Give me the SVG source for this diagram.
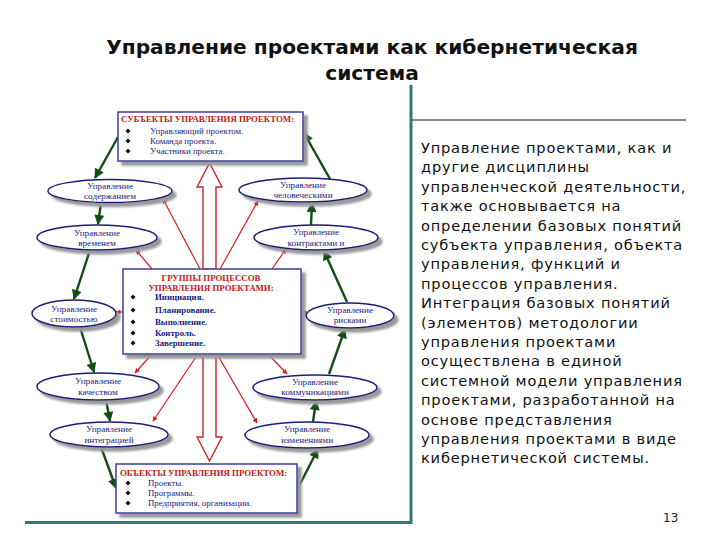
<svg xmlns="http://www.w3.org/2000/svg" width="720" height="540" viewBox="0 0 720 540">
<defs>
<filter id="sh" x="-20%" y="-30%" width="140%" height="170%"><feDropShadow dx="4" dy="4" stdDeviation="1.3" flood-color="#9a9a9a" flood-opacity="1"/></filter>
<marker id="ga" viewBox="0 0 10 10" refX="9" refY="5" markerWidth="11" markerHeight="10" markerUnits="userSpaceOnUse" orient="auto"><path d="M0,0 L10,5 L0,10 Z" fill="#134d13"/></marker>
<marker id="ra" viewBox="0 0 10 10" refX="9" refY="5" markerWidth="6" markerHeight="5" markerUnits="userSpaceOnUse" orient="auto"><path d="M0,0 L10,5 L0,10 Z" fill="#d42020"/></marker>
<style>
.bg{fill:#fff}
.title{font-family:"DejaVu Sans",sans-serif;font-weight:bold;font-size:20.2px;fill:#111;text-anchor:middle}
.body{font-family:"DejaVu Sans",sans-serif;font-size:14.6px;fill:#111;letter-spacing:0.8px}
.pg{font-family:"DejaVu Sans",sans-serif;font-size:12px;fill:#222}
.box{fill:#fff;stroke:#3c3ca0;stroke-width:1.5;filter:url(#sh)}
.ell{fill:#fff;stroke:#1c1c7c;stroke-width:1.5;filter:url(#sh)}
.bt{font-family:"Liberation Serif",serif;font-weight:bold;font-size:8.8px;fill:#c01818}
.bi{font-family:"Liberation Serif",serif;font-size:8.8px;fill:#1c1c80}
.bib{font-family:"Liberation Serif",serif;font-weight:bold;font-size:8.8px;fill:#1c1c80}
.et{font-family:"Liberation Serif",serif;font-size:9.2px;fill:#1c1c80;text-anchor:middle}
.bul{fill:#111}
.g{stroke:#134d13;stroke-width:2.4;fill:none;marker-end:url(#ga)}
.r{stroke:#d42020;stroke-width:1.2;fill:none;marker-end:url(#ra)}
.big{fill:#fff;stroke:#cc2222;stroke-width:1.4}
.teal{stroke:#2e7878;stroke-width:3}
</style>
</defs>
<rect class="bg" width="720" height="540"/>

<text class="title" x="372" y="54">Управление проектами как кибернетическая</text>
<text class="title" x="372" y="80">система</text>

<line class="teal" x1="411" y1="85" x2="411" y2="524"/>
<line class="teal" x1="25" y1="522.5" x2="411" y2="522.5"/>
<line x1="412" y1="120" x2="686" y2="120" stroke="#111" stroke-width="1.2"/>

<g id="text-right">
<text class="body" x="421" y="153">Управление проектами, как и</text>
<text class="body" x="421" y="172.4">другие дисциплины</text>
<text class="body" x="421" y="191.8">управленческой деятельности,</text>
<text class="body" x="421" y="211.2">также основывается на</text>
<text class="body" x="421" y="230.6">определении базовых понятий</text>
<text class="body" x="421" y="250">субъекта управления, объекта</text>
<text class="body" x="421" y="269.4">управления, функций и</text>
<text class="body" x="421" y="288.8">процессов управления.</text>
<text class="body" x="421" y="308.2">Интеграция базовых понятий</text>
<text class="body" x="421" y="327.6">(элементов) методологии</text>
<text class="body" x="421" y="347">управления проектами</text>
<text class="body" x="421" y="366.4">осуществлена в единой</text>
<text class="body" x="421" y="385.8">системной модели управления</text>
<text class="body" x="421" y="405.2">проектами, разработанной на</text>
<text class="body" x="421" y="424.6">основе представления</text>
<text class="body" x="421" y="444">управления проектами в виде</text>
<text class="body" x="421" y="463.4">кибернетической системы.</text>
<text class="pg" x="663" y="522">13</text>
</g>

<g id="connectors">
<polygon class="big" points="203,269 203,187 197,187 209.5,163 222,187 216,187 216,269"/>
<polygon class="big" points="203,354 203,437 197,437 209.5,461 222,437 216,437 216,354"/>
<line class="g" x1="118" y1="137" x2="95" y2="178"/>
<line class="g" x1="101" y1="203" x2="98" y2="224"/>
<line class="g" x1="90" y1="250" x2="74" y2="299"/>
<line class="g" x1="80" y1="327" x2="94" y2="372"/>
<line class="g" x1="106" y1="400" x2="110" y2="421"/>
<line class="g" x1="101" y1="447" x2="116" y2="488"/>
<line class="g" x1="297" y1="490" x2="318" y2="449"/>
<line class="g" x1="313" y1="422" x2="316" y2="401"/>
<line class="g" x1="329" y1="374" x2="345" y2="329"/>
<line class="g" x1="347" y1="302" x2="324" y2="251"/>
<line class="g" x1="311" y1="225" x2="312" y2="203"/>
<line class="g" x1="330" y1="179" x2="304" y2="133"/>
<line class="r" x1="200" y1="269" x2="163" y2="199"/>
<line class="r" x1="152" y1="269" x2="136" y2="250"/>
<line class="r" x1="220" y1="269" x2="258" y2="201"/>
<line class="r" x1="272" y1="269" x2="286" y2="249"/>
<line class="r" x1="123" y1="312" x2="116" y2="312"/>
<line class="r" x1="301" y1="312" x2="307" y2="312"/>
<line class="r" x1="152" y1="354" x2="135" y2="373"/>
<line class="r" x1="198" y1="354" x2="153" y2="421"/>
<line class="r" x1="268" y1="354" x2="287" y2="374"/>
<line class="r" x1="217" y1="354" x2="257" y2="423"/>
</g>

<g id="subjects">
<rect class="box" x="118" y="112" width="185" height="49"/>
<text class="bt" x="121" y="122">СУБЪЕКТЫ УПРАВЛЕНИЯ ПРОЕКТОМ:</text>
<path class="bul" d="M128,128.5 l2.5,2.5 l-2.5,2.5 l-2.5,-2.5 Z M128,138.5 l2.5,2.5 l-2.5,2.5 l-2.5,-2.5 Z M128,148.5 l2.5,2.5 l-2.5,2.5 l-2.5,-2.5 Z"/>
<text class="bi" x="150" y="134">Управляющий проектом.</text>
<text class="bi" x="150" y="144">Команда проекта.</text>
<text class="bi" x="150" y="154">Участники проекта.</text>
</g>

<g id="groups">
<rect class="box" x="123" y="269" width="178" height="85"/>
<text class="bt" x="211" y="281" text-anchor="middle">ГРУППЫ ПРОЦЕССОВ</text>
<text class="bt" x="211" y="290.5" text-anchor="middle">УПРАВЛЕНИЯ ПРОЕКТАМИ:</text>
<path class="bul" d="M133,294.5 l2.5,2.5 l-2.5,2.5 l-2.5,-2.5 Z M133,307.5 l2.5,2.5 l-2.5,2.5 l-2.5,-2.5 Z M133,319.5 l2.5,2.5 l-2.5,2.5 l-2.5,-2.5 Z M133,330.5 l2.5,2.5 l-2.5,2.5 l-2.5,-2.5 Z M133,340.5 l2.5,2.5 l-2.5,2.5 l-2.5,-2.5 Z"/>
<text class="bib" x="155" y="300">Инициация.</text>
<text class="bib" x="155" y="313">Планирование.</text>
<text class="bib" x="155" y="325">Выполнение.</text>
<text class="bib" x="155" y="336">Контроль.</text>
<text class="bib" x="155" y="346">Завершение.</text>
</g>

<g id="objects">
<rect class="box" x="116" y="464" width="181" height="49"/>
<text class="bt" x="120" y="476">ОБЪЕКТЫ УПРАВЛЕНИЯ ПРОЕКТОМ:</text>
<path class="bul" d="M128,480.5 l2.5,2.5 l-2.5,2.5 l-2.5,-2.5 Z M128,490.5 l2.5,2.5 l-2.5,2.5 l-2.5,-2.5 Z M128,500.5 l2.5,2.5 l-2.5,2.5 l-2.5,-2.5 Z"/>
<text class="bi" x="148" y="486">Проекты.</text>
<text class="bi" x="148" y="496">Программы.</text>
<text class="bi" x="148" y="506">Предприятия, организации.</text>
</g>

<g id="scope"><ellipse class="ell" cx="110" cy="191" rx="62" ry="11.5"/><text class="et" x="110" y="189">Управление</text><text class="et" x="110" y="199">содержанием</text></g>
<g id="time"><ellipse class="ell" cx="97" cy="237.5" rx="60" ry="12.5"/><text class="et" x="97" y="236">Управление</text><text class="et" x="97" y="246">временем</text></g>
<g id="cost"><ellipse class="ell" cx="74" cy="313.5" rx="42" ry="13.5"/><text class="et" x="74" y="312">Управление</text><text class="et" x="74" y="322">стоимостью</text></g>
<g id="quality"><ellipse class="ell" cx="98" cy="386.5" rx="61" ry="13.5"/><text class="et" x="98" y="384">Управление</text><text class="et" x="98" y="395">качеством</text></g>
<g id="integration"><ellipse class="ell" cx="109" cy="434.5" rx="59" ry="12.5"/><text class="et" x="109" y="432">Управление</text><text class="et" x="109" y="443">интеграцией</text></g>

<g id="hr"><ellipse class="ell" cx="303" cy="190" rx="64" ry="12"/><text class="et" x="303" y="188">Управление</text><text class="et" x="303" y="198">человеческими</text></g>
<g id="contracts"><ellipse class="ell" cx="316" cy="237.5" rx="62" ry="12.5"/><text class="et" x="316" y="235">Управление</text><text class="et" x="316" y="246">контрактами и</text></g>
<g id="risks"><ellipse class="ell" cx="350" cy="315.5" rx="44" ry="12.5"/><text class="et" x="350" y="313">Управление</text><text class="et" x="350" y="323">рисками</text></g>
<g id="comms"><ellipse class="ell" cx="315" cy="387.5" rx="62" ry="12.5"/><text class="et" x="315" y="385">Управление</text><text class="et" x="315" y="395">коммуникациями</text></g>
<g id="changes"><ellipse class="ell" cx="307" cy="435" rx="62" ry="13"/><text class="et" x="307" y="432">Управление</text><text class="et" x="307" y="443">изменениями</text></g>
</svg>
